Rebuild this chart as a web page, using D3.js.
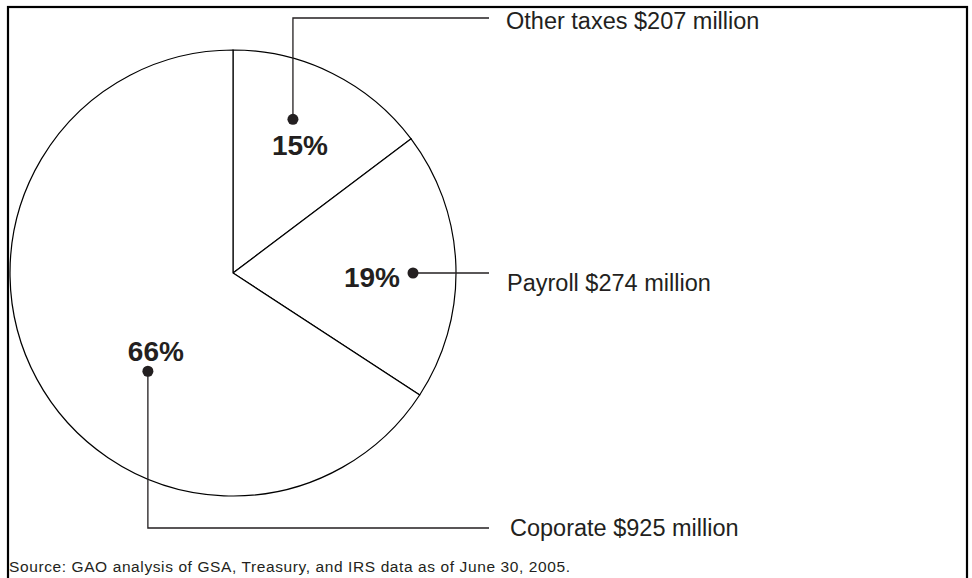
<!DOCTYPE html>
<html>
<head>
<meta charset="utf-8">
<script src="https://cdn.jsdelivr.net/npm/d3@7"></script>
<style>
  body { margin: 0; background: #fff; }
  text { font-family: "Liberation Sans", Arial, Helvetica, sans-serif; fill: #231f20; }
</style>
</head>
<body>
<div id="chart"></div>
<script>
// data
var categories = ["Other taxes", "Payroll", "Coporate"];
var values = [207, 274, 925]; // $ million
var percentLabels = ["15%", "19%", "66%"];
var sourceNote = "Source: GAO analysis of GSA, Treasury, and IRS data as of June 30, 2005.";

var width = 972, height = 578;
var cx = 233, cy = 273, radius = 223;

var svg = d3.select("#chart").append("svg")
  .attr("width", width)
  .attr("height", height);

// frame (bottom edge runs off the page)
svg.append("rect")
  .attr("x", 8).attr("y", 7)
  .attr("width", 959).attr("height", 620)
  .attr("fill", "none")
  .attr("stroke", "#000")
  .attr("stroke-width", 2.2);

var pie = d3.pie().sort(null).value(function(d) { return d; });
var arcs = pie(values);

var arc = d3.arc().innerRadius(0).outerRadius(radius);

var g = svg.append("g").attr("transform", "translate(" + cx + "," + cy + ")");

g.selectAll("path.slice")
  .data(arcs)
  .enter().append("path")
  .attr("class", "slice")
  .attr("d", arc)
  .attr("fill", "#fff")
  .attr("stroke", "#000")
  .attr("stroke-width", 1.2);

// label anchors: angle (deg from 12 o'clock) and radius of the dot, per slice
var dotAngle = [21.3, 90, 220.9];
var dotRadius = [165, 180, 130];
// leader routes: "up", "right", "down" then across to the label column
var leaderDir = ["up", "right", "down"];
var leaderY = [18, null, 528];   // elbow y for vertical leaders
var leaderEndX = 489;
var labelX = [506, 507, 510];
var labelDy = [10.5, 18, 7.5];

function polar(a, r) {
  var t = a * Math.PI / 180;
  return [r * Math.sin(t), -r * Math.cos(t)];
}

arcs.forEach(function(d, i) {
  var p = polar(dotAngle[i], dotRadius[i]);
  var px = cx + p[0], py = cy + p[1];
  var pts;
  if (leaderDir[i] === "right") {
    pts = [[px, py], [leaderEndX, py]];
  } else {
    pts = [[px, py], [px, leaderY[i]], [leaderEndX, leaderY[i]]];
  }
  svg.append("path")
    .attr("d", d3.line()(pts))
    .attr("fill", "none")
    .attr("stroke", "#231f20")
    .attr("stroke-width", 1.3);

  svg.append("circle")
    .attr("cx", px).attr("cy", py)
    .attr("r", 5.5)
    .attr("fill", "#231f20");

  // percentage
  var pct = svg.append("text")
    .attr("font-size", "28px")
    .attr("font-weight", "bold")
    .text(percentLabels[i]);
  if (leaderDir[i] === "up") {
    pct.attr("x", px + 7).attr("y", py + 36).attr("text-anchor", "middle");
  } else if (leaderDir[i] === "right") {
    pct.attr("x", px - 13).attr("y", py + 14).attr("text-anchor", "end");
  } else {
    pct.attr("x", px + 8).attr("y", py - 10).attr("text-anchor", "middle");
  }

  // category label
  var ly = leaderDir[i] === "right" ? py : leaderY[i];
  svg.append("text")
    .attr("x", labelX[i])
    .attr("y", ly + labelDy[i])
    .attr("font-size", "23.5px")
    .text(categories[i] + " $" + values[i] + " million");
});

svg.append("text")
  .attr("x", 9)
  .attr("y", 572)
  .attr("font-size", "15.5px")
  .attr("letter-spacing", "0.6px")
  .text(sourceNote);
</script>
</body>
</html>
